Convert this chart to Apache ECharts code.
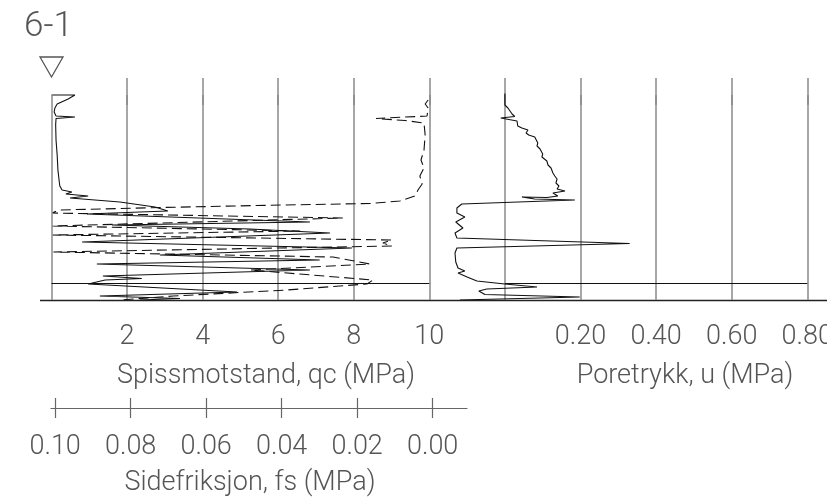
<!DOCTYPE html>
<html>
<head>
<meta charset="utf-8">
<script src="https://cdn.jsdelivr.net/npm/echarts@6/dist/echarts.min.js"></script>
<style>
  html, body { margin: 0; padding: 0; background: #fff; }
  #chart { width: 827px; height: 502px; }
</style>
</head>
<body>
<div id="chart"></div>
<script>
// CPT sounding 6-1: depth in metres, qc and u in MPa, fs in MPa
const title = '6-1';

// Cone resistance qc (MPa) vs depth (m)
const qcDepth = [0.0, 0.0, 0.4, 0.9, 1.3, 1.7, 2.1, 2.2, 2.35, 3.0, 4.5, 6.0, 7.5, 8.5, 9.1, 9.5, 9.7, 9.9, 10.1, 10.3, 10.7, 11.2, 11.6, 11.7, 11.9, 12.7, 13.0, 13.4, 13.8, 14.7, 15.3, 16.0, 16.5, 16.9, 17.5, 18.1, 18.35, 18.5, 18.9, 19.7, 20.1, 20.35, 20.5];
const qcValue = [0.00, 0.62, 0.44, 0.15, 0.09, 0.07, 0.12, 0.62, 0.12, 0.11, 0.12, 0.15, 0.17, 0.20, 0.22, 0.28, 0.54, 0.38, 0.97, 0.49, 1.81, 2.74, 3.08, 2.34, 0.94, 6.84, 1.60, 5.25, 7.37, 0.81, 7.95, 2.87, 7.10, 1.20, 6.84, 1.36, 2.39, 1.42, 0.97, 4.91, 1.28, 3.40, 2.34];

// Sleeve friction fs (MPa) vs depth (m), plotted on a reversed scale
const fsDepth = [0.5, 0.9, 1.3, 2.1, 2.35, 2.55, 2.8, 4.0, 5.5, 6.5, 7.3, 8.1, 8.9, 9.5, 10.1, 10.6, 10.85, 11.0, 11.25, 11.5, 11.8, 12.3, 13.1, 13.6, 14.0, 14.5, 14.8, 15.1, 15.7, 16.2, 16.9, 17.5, 18.5, 18.9, 19.5, 20.1, 20.5];
const fsValue = [0.0003, 0.0011, 0.0003, 0.0006, 0.0141, 0.0064, 0.0014, 0.0011, 0.0014, 0.0022, 0.0014, 0.0025, 0.0019, 0.0030, 0.0038, 0.0078, 0.0157, 0.0387, 0.0712, 0.0982, 0.0998, 0.0229, 0.0998, 0.0342, 0.0998, 0.0099, 0.0123, 0.0099, 0.0995, 0.0255, 0.0157, 0.0474, 0.0149, 0.0165, 0.0377, 0.0678, 0.0818];

// Pore pressure u (MPa) vs depth (m)
const uDepth = [-0.15, 1.0, 1.3, 1.9, 2.15, 2.3, 2.6, 3.1, 3.3, 3.5, 3.8, 4.0, 4.2, 4.8, 5.1, 5.4, 5.9, 6.2, 6.6, 7.0, 7.3, 7.8, 8.1, 8.4, 8.8, 9.1, 9.4, 9.6, 9.8, 10.1, 10.25, 10.2, 10.4, 10.5, 10.9, 11.3, 11.8, 12.2, 12.7, 13.3, 13.8, 14.3, 14.85, 15.3, 15.8, 16.7, 17.3, 17.6, 17.8, 18.2, 18.6, 18.9, 19.2, 19.4, 19.6, 19.95, 20.2, 20.5];
const uValue = [0.000, 0.000, 0.008, 0.019, 0.026, -0.011, 0.032, 0.034, 0.045, 0.061, 0.056, 0.063, 0.079, 0.087, 0.085, 0.093, 0.100, 0.098, 0.111, 0.114, 0.122, 0.127, 0.132, 0.138, 0.135, 0.143, 0.138, 0.159, 0.127, 0.140, 0.111, 0.045, 0.079, 0.185, -0.114, -0.127, -0.127, -0.106, -0.130, -0.111, -0.132, -0.127, 0.330, -0.127, -0.132, -0.130, -0.124, -0.106, -0.124, -0.100, -0.074, 0.000, 0.085, -0.048, -0.069, -0.053, 0.198, -0.119];

// Axis ticks and layer boundary
const qcTicks = [2, 4, 6, 8, 10];
const uTicks = [0, 0.2, 0.4, 0.6, 0.8];
const uLabels = [0.2, 0.4, 0.6, 0.8];
const fsTicks = [0.10, 0.08, 0.06, 0.04, 0.02, 0.00];
const depthTop = 0;
const depthBottom = 20.5;
const layerDepth = 18.8;

const zip = (xs, ys) => xs.map((x, i) => [x, ys[i]]);

const FONT = 'Roboto';
const TXT = '#555';
const GRID = '#8a8a8a';

const chart = echarts.init(document.getElementById('chart'), null, { renderer: 'canvas' });

const labelStyle = {
  fontFamily: FONT, fontWeight: 300, fontSize: 27, color: TXT
};

chart.setOption({
  animation: false,
  backgroundColor: '#fff',
  grid: [
    { left: 51.5, top: 78, width: 377.8, height: 222, outerBoundsMode: 'none', containLabel: false },
    { left: 429.3, top: 78, width: 378, height: 222, outerBoundsMode: 'none', containLabel: false },
    { left: 51, top: 398, width: 416, height: 10, outerBoundsMode: 'none', containLabel: false }
  ],
  xAxis: [
    {
      gridIndex: 0, type: 'value', min: 0, max: 10, interval: 2, position: 'bottom',
      axisLine: { show: false },
      axisTick: { show: true, customValues: qcTicks, length: 10, lineStyle: { color: GRID, width: 1.5 } },
      axisLabel: Object.assign({ customValues: qcTicks, margin: 24 }, labelStyle),
      splitLine: { show: true, lineStyle: { color: GRID, width: 1.5 } }
    },
    {
      gridIndex: 0, type: 'value', min: 0, max: 0.1, inverse: true, show: false
    },
    {
      gridIndex: 1, type: 'value', min: -0.2, max: 0.8, interval: 0.2, position: 'bottom',
      axisLine: { show: false },
      axisTick: { show: true, customValues: uTicks, length: 10, lineStyle: { color: GRID, width: 1.5 } },
      axisLabel: Object.assign({ customValues: uLabels, margin: 24, formatter: v => v.toFixed(2) }, labelStyle),
      splitLine: { show: true, lineStyle: { color: GRID, width: 1.5 } }
    },
    {
      gridIndex: 2, type: 'value', min: -0.0091, max: 0.1011, inverse: true, position: 'bottom',
      axisLine: { show: true, lineStyle: { color: '#666', width: 1.2 } },
      axisTick: { show: true, inside: true, customValues: fsTicks, length: 10, lineStyle: { color: '#666', width: 1.2 } },
      axisLabel: { show: false },
      splitLine: { show: false }
    },
    {
      gridIndex: 2, type: 'value', min: -0.0091, max: 0.1011, inverse: true, position: 'bottom',
      axisLine: { show: false },
      axisTick: { show: true, inside: false, customValues: fsTicks, length: 10, lineStyle: { color: '#666', width: 1.2 } },
      axisLabel: Object.assign({ customValues: fsTicks, margin: 26, formatter: v => v.toFixed(2) }, labelStyle),
      splitLine: { show: false }
    }
  ],
  yAxis: [
    { gridIndex: 0, type: 'value', min: -1.7, max: 20.5, inverse: true, show: false },
    { gridIndex: 1, type: 'value', min: -1.7, max: 20.5, inverse: true, show: false },
    { gridIndex: 2, type: 'value', min: 0, max: 1, show: false }
  ],
  series: [
    {
      name: 'qc', type: 'line', xAxisIndex: 0, yAxisIndex: 0,
      data: zip(qcValue, qcDepth), showSymbol: false, symbol: 'none',
      lineStyle: { color: '#111', width: 1.1 },
      markLine: {
        silent: true, symbol: 'none', label: { show: false },
        data: [
          [{ coord: [0, depthTop], lineStyle: { color: GRID, width: 1.5, type: 'solid' } }, { coord: [0, depthBottom] }],
          [{ coord: [0, layerDepth], lineStyle: { color: '#111', width: 1, type: 'solid' } }, { coord: [10, layerDepth] }]
        ]
      }
    },
    {
      name: 'fs', type: 'line', xAxisIndex: 1, yAxisIndex: 0,
      data: zip(fsValue, fsDepth), showSymbol: false, symbol: 'none',
      lineStyle: { color: '#111', width: 1.1, type: [10, 5] }
    },
    {
      name: 'u', type: 'line', xAxisIndex: 2, yAxisIndex: 1,
      data: zip(uValue, uDepth), showSymbol: false, symbol: 'none',
      lineStyle: { color: '#111', width: 1.1 },
      markLine: {
        silent: true, symbol: 'none', label: { show: false },
        data: [
          [{ coord: [0, layerDepth], lineStyle: { color: '#111', width: 1, type: 'solid' } }, { coord: [0.8, layerDepth] }]
        ]
      }
    }
  ],
  graphic: [
    { type: 'text', left: 24, top: 10, style: { text: title, fontFamily: FONT, fontWeight: 300, fontSize: 35, fill: TXT } },
    { type: 'polygon', shape: { points: [[40, 57], [63, 57], [51.5, 77]] }, style: { fill: null, stroke: '#555', lineWidth: 1.3 } },
    { type: 'line', shape: { x1: 40, y1: 300.5, x2: 827, y2: 300.5 }, style: { stroke: '#222', lineWidth: 1.3 } },
    { type: 'text', x: 266, y: 376, style: { text: 'Spissmotstand, qc (MPa)', align: 'center', verticalAlign: 'middle', fontFamily: FONT, fontWeight: 300, fontSize: 27, fill: TXT } },
    { type: 'text', x: 685, y: 376, style: { text: 'Poretrykk, u (MPa)', align: 'center', verticalAlign: 'middle', fontFamily: FONT, fontWeight: 300, fontSize: 27, fill: TXT } },
    { type: 'text', x: 250, y: 483, style: { text: 'Sidefriksjon, fs (MPa)', align: 'center', verticalAlign: 'middle', fontFamily: FONT, fontWeight: 300, fontSize: 27, fill: TXT } }
  ]
});
</script>
</body>
</html>
